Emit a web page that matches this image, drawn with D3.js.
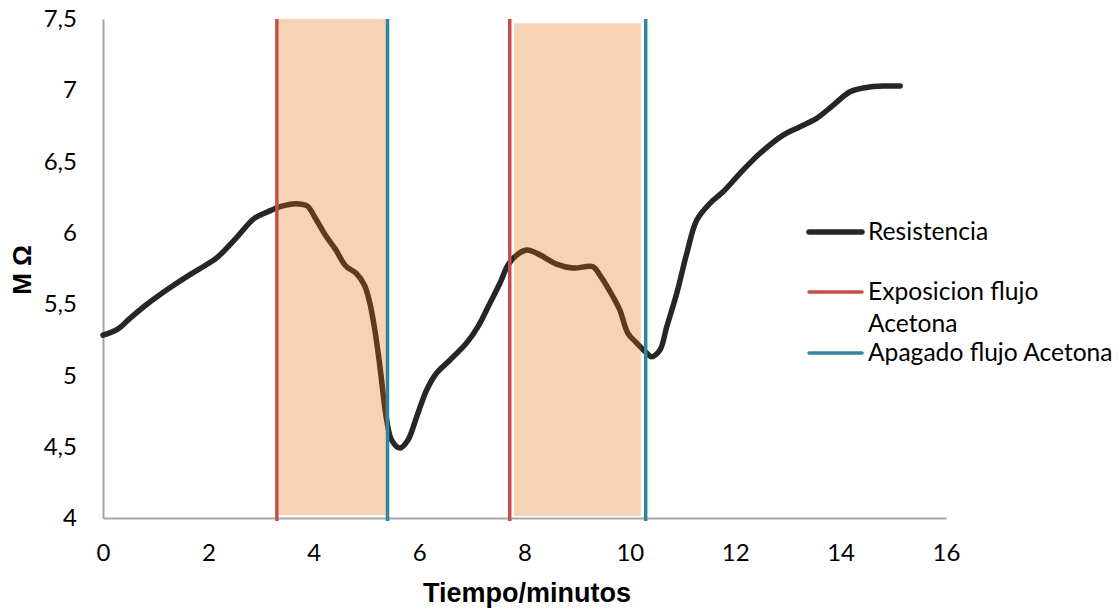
<!DOCTYPE html>
<html>
<head>
<meta charset="utf-8">
<script src="https://cdn.jsdelivr.net/npm/d3@7/dist/d3.min.js"></script>
<style>
  html, body { margin: 0; padding: 0; background: #fff; }
  svg { display: block; }
</style>
</head>
<body>
<svg id="chart" width="1119" height="612"></svg>
<script>
// Resistance (MΩ) versus time (minutes)
const tiempo = [0, 0.28, 0.51, 0.816, 1.262, 1.651, 1.97, 2.164, 2.543, 2.866, 3.13, 3.378, 3.644, 3.87, 4.02, 4.21, 4.41, 4.61, 4.80, 4.96, 5.06, 5.16, 5.257, 5.384, 5.479, 5.637, 5.789, 5.954, 6.143, 6.333, 6.586, 6.90, 7.117, 7.345, 7.535, 7.686, 7.852, 8.04, 8.23, 8.61, 8.92, 9.30, 9.43, 9.68, 9.81, 9.96, 10.13, 10.32, 10.41, 10.57, 10.70, 10.89, 11.08, 11.27, 11.52, 11.77, 12.09, 12.47, 12.91, 13.23, 13.545, 13.86, 14.18, 14.49, 14.81, 15.13];
const resistencia = [5.283, 5.325, 5.40, 5.494, 5.613, 5.707, 5.778, 5.826, 5.97, 6.10, 6.148, 6.185, 6.205, 6.19, 6.11, 5.99, 5.886, 5.766, 5.718, 5.634, 5.515, 5.318, 5.059, 4.687, 4.547, 4.491, 4.547, 4.710, 4.898, 5.017, 5.108, 5.227, 5.342, 5.508, 5.648, 5.774, 5.844, 5.879, 5.858, 5.781, 5.753, 5.762, 5.704, 5.552, 5.459, 5.297, 5.227, 5.157, 5.131, 5.178, 5.342, 5.576, 5.856, 6.09, 6.207, 6.288, 6.417, 6.558, 6.686, 6.744, 6.803, 6.896, 6.99, 7.02, 7.03, 7.03];

// Moments when the acetone flow is switched on and off
const exposicion = [3.3, 7.72];
const apagado = [5.4, 10.3];

// Shaded exposure windows: [start, end, bottom, top]
const ventanas = [
  [3.33, 5.37, 4.02, 7.5],
  [7.80, 10.21, 4.015, 7.47]
];

const xTicks = [0, 2, 4, 6, 8, 10, 12, 14, 16];
const yTicks = [4, 4.5, 5, 5.5, 6, 6.5, 7, 7.5];

const legendItems = [
  { label: ["Resistencia"], color: "#262626", width: 5.5 },
  { label: ["Exposicion flujo", "Acetona"], color: "#C0504D", width: 3.5 },
  { label: ["Apagado flujo Acetona"], color: "#31859C", width: 3.5 }
];

const svg = d3.select("#chart");
const x = d3.scaleLinear().domain([0, 16]).range([103, 946]);
const y = d3.scaleLinear().domain([4, 7.5]).range([518, 19]);

const FONT = "Lato, 'Open Sans', sans-serif";
const fmt = d => String(d).replace(".", ",");

// Axes (no tick marks, gray baselines)
const xAxis = svg.append("g")
  .attr("transform", `translate(0,${y(4)})`)
  .call(d3.axisBottom(x).tickValues(xTicks).tickSize(0).tickPadding(0).tickFormat(d3.format("d")));
xAxis.select(".domain").attr("stroke", "#A6A6A6").attr("stroke-width", 2);
xAxis.selectAll("text")
  .attr("font-family", FONT).attr("font-size", 24).attr("fill", "#000")
  .attr("dy", null).attr("y", 43);

const yAxis = svg.append("g")
  .attr("transform", `translate(${x(0)},0)`)
  .call(d3.axisLeft(y).tickValues(yTicks).tickSize(0).tickPadding(26).tickFormat(fmt));
yAxis.select(".domain").attr("stroke", "#A6A6A6").attr("stroke-width", 2);
yAxis.selectAll("text")
  .attr("font-family", FONT).attr("font-size", 24).attr("fill", "#000");

// Resistance curve
const line = d3.line()
  .x((d, i) => x(tiempo[i]))
  .y(d => y(d))
  .curve(d3.curveCatmullRom.alpha(0.5));

svg.append("path")
  .datum(resistencia)
  .attr("d", line)
  .attr("fill", "none")
  .attr("stroke", "#262626")
  .attr("stroke-width", 5.5)
  .attr("stroke-linejoin", "round")
  .attr("stroke-linecap", "round");

// Vertical markers
svg.selectAll("line.exp")
  .data(exposicion).join("line")
  .attr("class", "exp")
  .attr("x1", d => x(d)).attr("x2", d => x(d))
  .attr("y1", y(7.5)).attr("y2", y(4) + 3)
  .attr("stroke", "#C0504D").attr("stroke-width", 3.5);

svg.selectAll("line.apg")
  .data(apagado).join("line")
  .attr("class", "apg")
  .attr("x1", d => x(d)).attr("x2", d => x(d))
  .attr("y1", y(7.5)).attr("y2", y(4) + 3)
  .attr("stroke", "#31859C").attr("stroke-width", 3.5);

// Translucent exposure windows
svg.selectAll("rect.ventana")
  .data(ventanas).join("rect")
  .attr("class", "ventana")
  .attr("x", d => x(d[0]))
  .attr("width", d => x(d[1]) - x(d[0]))
  .attr("y", d => y(d[3]))
  .attr("height", d => y(d[2]) - y(d[3]))
  .attr("fill", "#E46C0A")
  .attr("fill-opacity", 0.3);

// Axis titles
svg.append("text")
  .attr("x", 527).attr("y", 602)
  .attr("text-anchor", "middle")
  .attr("font-family", "'Liberation Sans', Arial, sans-serif")
  .attr("font-weight", "bold").attr("font-size", 27)
  .text("Tiempo/minutos");

svg.append("text")
  .attr("transform", "translate(31,270) rotate(-90)")
  .attr("text-anchor", "middle")
  .attr("font-family", "'Liberation Sans', Arial, sans-serif")
  .attr("font-weight", "bold").attr("font-size", 26)
  .text("M Ω");

// Legend
const legendRows = [232, 292, 353];
const legend = svg.append("g");
legendItems.forEach((it, i) => {
  const cy = legendRows[i];
  legend.append("line")
    .attr("x1", 809).attr("x2", 862)
    .attr("y1", cy).attr("y2", cy)
    .attr("stroke", it.color).attr("stroke-width", it.width)
    .attr("stroke-linecap", "round");
  it.label.forEach((t, j) => {
    legend.append("text")
      .attr("x", 868).attr("y", cy + 8 + j * 32)
      .attr("font-family", FONT).attr("font-size", 24.6)
      .attr("fill", "#000")
      .text(t);
  });
});
</script>
</body>
</html>
